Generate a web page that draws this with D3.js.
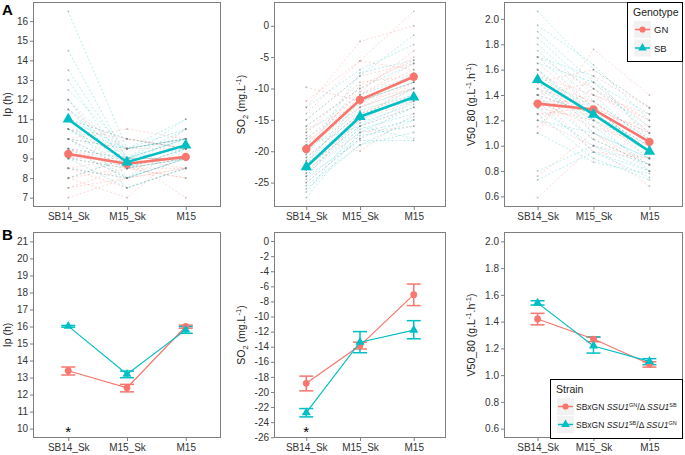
<!DOCTYPE html>
<html>
<head>
<meta charset="utf-8">
<script src="https://cdn.jsdelivr.net/npm/d3@7"></script>
<style>
  body { margin: 0; background: #fff; }
  svg { display: block; }
  text { font-family: "Liberation Sans", Arial, sans-serif; }
</style>
</head>
<body>
<svg id="chart" width="685" height="455"></svg>
<script>
// ---- data ----
const categories = ['SB14_Sk', 'M15_Sk', 'M15'];

// Panel A: individual strains (values at SB14_Sk, M15_Sk, M15)
const ipGN = [
  [7, 8, 8.5], [7.5, 8, 9], [8, 7, 9.5], [8, 8.5, 8], [8.5, 9, 9], [8.5, 8, 8.5],
  [9, 8.5, 9], [9, 9.5, 10], [9, 10, 9.5], [9.5, 8.5, 8.5], [9.5, 9, 9], [10, 9.5, 9.5],
  [10, 10.5, 10], [10.5, 9, 9], [11, 10, 9.5], [11.5, 9.5, 10], [12, 8.5, 8], [8, 9, 7],
  [9.5, 8, 10.5], [10, 8.5, 9], [8.5, 7.5, 8.5], [9, 9, 8.5], [7.5, 8.5, 9.5], [10.5, 10, 9.5]
];
const ipSB = [
  [16.5, 9.5, 10.5], [14.5, 9, 11], [13.5, 9, 10], [13, 8.5, 10.5], [12.5, 9.5, 10], [12, 8, 9.5],
  [11.5, 9, 10], [11.5, 8.5, 9], [11, 9.5, 10], [11, 10, 9.5], [10.5, 8.5, 9.5], [10.5, 9, 9],
  [10, 8.5, 9.5], [10, 9.5, 10], [9.5, 8, 9], [9.5, 9, 9.5], [9, 8.5, 9], [9, 7.5, 8.5],
  [8.5, 8, 9], [8, 9, 10], [12, 9, 10.5], [10, 8, 9], [11, 7.5, 8.5], [10.5, 9.5, 11]
];
const so2GN = [
  [-9.8, -12, -10], [-12, -5.6, -7], [-13, -2.5, 0], [-14, -5.6, 2.3], [-15, -8, -6], [-16, -10, -5],
  [-17, -9, -8], [-18, -11, -7], [-18.5, -12, -9], [-19, -10.5, -4], [-19.5, -13, -10], [-20, -12, -8],
  [-20.5, -11, -6], [-21, -14, -11], [-21.5, -13, -9], [-22, -15, -12], [-22.5, -16, -13], [-23, -17, -16],
  [-23.5, -14, -10], [-24, -15, -9], [-25, -18, -12], [-17.5, -20, -14], [-16.5, -12.5, -7.5], [-20, -9.5, -5.5]
];
const so2SB = [
  [-13, -7, -3], [-15, -8, -1.5], [-16, -10, -6], [-17, -11, -8], [-18, -12, -9], [-19, -13, -10],
  [-20, -13.5, -11], [-21, -14, -12], [-21.5, -15, -11], [-22, -15.5, -12.5], [-22.5, -16, -13], [-23, -16.5, -14],
  [-23.5, -17, -15], [-24, -18.3, -18.3], [-24.5, -17.5, -16], [-25, -18, -14.5], [-25.5, -19, -17], [-26, -19, -15],
  [-26.5, -16, -12], [-27.4, -17, -13], [-20.5, -7.5, -5.5], [-22, -12, -9], [-24, -14.5, -10], [-19, -16, -18]
];
const v50GN = [
  [0.59, 1.0, 0.9], [0.76, 1.1, 0.85], [1.1, 1.76, 1.4], [1.15, 1.55, 1.3], [1.2, 1.45, 1.2], [1.25, 1.3, 1.1],
  [1.3, 1.4, 1.25], [1.3, 1.2, 0.95], [1.35, 1.35, 1.05], [1.4, 1.25, 1.0], [1.4, 1.5, 1.15], [1.45, 1.3, 1.1],
  [1.5, 1.2, 0.9], [1.5, 1.35, 1.0], [1.55, 1.4, 1.2], [1.6, 1.1, 0.8], [1.65, 1.3, 0.95], [1.7, 1.45, 1.1],
  [1.2, 1.0, 0.68], [1.35, 1.15, 1.0], [1.45, 1.05, 0.85], [1.25, 1.25, 1.15], [1.4, 0.95, 0.9], [1.5, 1.6, 1.3]
];
const v50SB = [
  [2.06, 1.6, 1.3], [1.95, 1.64, 1.2], [1.9, 1.5, 1.1], [1.85, 1.45, 1.15], [1.8, 1.4, 1.0], [1.75, 1.35, 1.05],
  [1.7, 1.3, 0.95], [1.65, 1.5, 1.25], [1.6, 1.25, 0.9], [1.6, 1.2, 1.0], [1.55, 1.3, 0.95], [1.5, 1.15, 0.85],
  [1.5, 1.1, 0.9], [1.45, 1.2, 0.8], [1.4, 1.05, 0.85], [1.4, 1.25, 1.0], [1.35, 0.95, 0.75], [1.3, 1.0, 0.8],
  [1.25, 0.9, 0.73], [1.2, 1.1, 0.9], [1.1, 0.87, 0.78], [0.8, 1.0, 0.85], [0.73, 0.95, 0.8], [1.7, 1.55, 1.05]
];

// Panel A: genotype means
const ipMeanGN = [9.23, 8.73, 9.08];
const ipMeanSB = [11.0, 8.81, 9.67];
const so2MeanGN = [-19.65, -11.8, -8.12];
const so2MeanSB = [-22.5, -14.5, -11.4];
const v50MeanGN = [1.332, 1.286, 1.03];
const v50MeanSB = [1.52, 1.247, 0.955];

// Panel B: strain means with error bar low / high
const bIpGN = [13.4, 12.4, 16.0];
const bIpGNLow = [13.15, 12.16, 15.9];
const bIpGNHigh = [13.62, 12.6, 16.08];
const bIpSB = [16.02, 13.2, 15.8];
const bIpSBLow = [15.96, 12.99, 15.6];
const bIpSBHigh = [16.06, 13.38, 16.0];

const bSo2GN = [-18.85, -13.85, -7.1];
const bSo2GNLow = [-19.85, -14.3, -8.55];
const bSo2GNHigh = [-17.9, -13.4, -5.7];
const bSo2SB = [-22.75, -13.4, -11.8];
const bSo2SBLow = [-23.3, -14.8, -12.95];
const bSo2SBHigh = [-22.2, -12.0, -10.55];

const bV50GN = [1.42, 1.27, 1.083];
const bV50GNLow = [1.376, 1.25, 1.06];
const bV50GNHigh = [1.462, 1.285, 1.1];
const bV50SB = [1.54, 1.218, 1.103];
const bV50SBLow = [1.524, 1.165, 1.078];
const bV50SBHigh = [1.556, 1.285, 1.123];

// significance marks (category, y value)
const starsIp = [['SB14_Sk', 9.9]];
const starsSo2 = [['SB14_Sk', -25.1]];

// axis ticks
const ticksIpA = d3.range(7, 17, 1);
const ticksSo2A = [0, -5, -10, -15, -20, -25];
const ticksV50 = [0.6, 0.8, 1.0, 1.2, 1.4, 1.6, 1.8, 2.0];
const ticksIpB = d3.range(10, 22, 1);
const ticksSo2B = d3.range(0, -27, -2);

const limitsIpB = [10, 21];
const limitsV50B = [0.6, 2.0];
const domainSo2B = [-26.1, 1.2];

// ---- drawing ----
const svg = d3.select('#chart');
const colors = { GN: '#F8766D', SB: '#00BFC4' };
const colX = [[33, 221], [274, 446], [504, 683]];
const rowY = [[2, 207], [232, 438]];
const border = '#7f7f7f';

function expand(lim) {
  const pad = (lim[1] - lim[0]) * 0.05;
  return [lim[0] - pad, lim[1] + pad];
}

function panel(col, row, domain, ticks, fmt) {
  const [x0, x1] = colX[col];
  const [y0, y1] = rowY[row];
  const x = d3.scalePoint().domain(categories).range([x0, x1]).padding(0.6);
  const y = d3.scaleLinear().domain(domain).range([y1, y0]);
  const g = svg.append('g');

  const ya = g.append('g')
    .attr('transform', `translate(${x0},0)`)
    .call(d3.axisLeft(y).tickValues(ticks).tickFormat(fmt).tickSize(3).tickPadding(2));
  const xa = g.append('g')
    .attr('transform', `translate(0,${y1})`)
    .call(d3.axisBottom(x).tickSize(3).tickPadding(3));
  [ya, xa].forEach(a => {
    a.select('.domain').remove();
    a.selectAll('line').attr('stroke', border);
    a.selectAll('text').attr('fill', '#333').style('font-size', '10px').style('font-family', '"Liberation Sans", Arial, sans-serif');
  });

  g.append('rect')
    .attr('x', x0 + 0.5).attr('y', y0 + 0.5)
    .attr('width', x1 - x0 - 1).attr('height', y1 - y0 - 1)
    .attr('fill', 'none').attr('stroke', border).attr('stroke-width', 1);

  return { g, x, y };
}

const intFmt = d => String(d);
const decFmt = d => d.toFixed(1);

const symCircle = s => d3.symbol(d3.symbolCircle).size(s)();
const symTriangle = s => d3.symbol(d3.symbolTriangle).size(s)();

function drawTopPanel(col, gnLines, sbLines, gnMean, sbMean, ticks, fmt) {
  const all = gnLines.concat(sbLines).flat();
  const p = panel(col, 0, expand(d3.extent(all)), ticks, fmt);
  const line = d3.line().x((d, i) => p.x(categories[i])).y(d => p.y(d));

  [['GN', gnLines], ['SB', sbLines]].forEach(([key, lines]) => {
    p.g.append('g').selectAll('path')
      .data(lines).enter().append('path')
      .attr('d', line)
      .attr('fill', 'none')
      .attr('stroke', colors[key])
      .attr('stroke-opacity', 0.4)
      .attr('stroke-width', 0.7)
      .attr('stroke-dasharray', '2,2');
    p.g.append('g').selectAll('circle')
      .data(lines.flatMap(l => l.map((v, i) => [i, v]))).enter().append('circle')
      .attr('cx', d => p.x(categories[d[0]]))
      .attr('cy', d => p.y(d[1]))
      .attr('r', 0.9)
      .attr('fill', '#777')
      .attr('opacity', 0.45);
  });

  [['GN', gnMean, symCircle(55)], ['SB', sbMean, symTriangle(55)]].forEach(([key, vals, sym]) => {
    p.g.append('path')
      .attr('d', line(vals))
      .attr('fill', 'none')
      .attr('stroke', colors[key])
      .attr('stroke-width', 2.6);
    p.g.append('g').selectAll('path')
      .data(vals).enter().append('path')
      .attr('d', sym)
      .attr('transform', (d, i) => `translate(${p.x(categories[i])},${p.y(d)})`)
      .attr('fill', colors[key]);
  });
  return p;
}

function drawBottomPanel(col, domain, ticks, fmt, series, stars) {
  const p = panel(col, 1, domain, ticks, fmt);
  const line = d3.line().x((d, i) => p.x(categories[i])).y(d => p.y(d));
  series.forEach(s => {
    const eg = p.g.append('g');
    s.vals.forEach((v, i) => {
      const cx = p.x(categories[i]);
      eg.append('line').attr('x1', cx).attr('x2', cx)
        .attr('y1', p.y(s.low[i])).attr('y2', p.y(s.high[i]));
      eg.append('line').attr('x1', cx - 7).attr('x2', cx + 7)
        .attr('y1', p.y(s.low[i])).attr('y2', p.y(s.low[i]));
      eg.append('line').attr('x1', cx - 7).attr('x2', cx + 7)
        .attr('y1', p.y(s.high[i])).attr('y2', p.y(s.high[i]));
    });
    eg.selectAll('line').attr('stroke', colors[s.key]).attr('stroke-width', 1.5);
  });
  series.forEach(s => {
    p.g.append('path')
      .attr('d', line(s.vals))
      .attr('fill', 'none')
      .attr('stroke', colors[s.key])
      .attr('stroke-width', 1.2);
    p.g.append('g').selectAll('path')
      .data(s.vals).enter().append('path')
      .attr('d', s.key === 'GN' ? symCircle(36) : symTriangle(36))
      .attr('transform', (d, i) => `translate(${p.x(categories[i])},${p.y(d)})`)
      .attr('fill', colors[s.key]);
  });
  p.g.selectAll('.star')
    .data(stars).enter().append('text')
    .attr('x', d => p.x(d[0]))
    .attr('y', d => p.y(d[1]) + 7)
    .attr('text-anchor', 'middle')
    .style('font-size', '15px')
    .attr('fill', '#000')
    .text('*');
  return p;
}

// y axis titles built from pieces: [text, 'n' | 'sub' | 'sup']
function yTitle(xb, yc, parts) {
  const t = svg.append('text')
    .attr('transform', `translate(${xb},${yc}) rotate(-90)`)
    .attr('text-anchor', 'middle')
    .attr('fill', '#222')
    .style('font-size', '10.5px');
  let shift = 0;
  parts.forEach(([txt, kind]) => {
    const target = kind === 'sub' ? 3 : kind === 'sup' ? -4 : 0;
    t.append('tspan')
      .attr('dy', target - shift)
      .style('font-size', kind === 'n' ? '10.5px' : '7.5px')
      .text(txt);
    shift = target;
  });
}

// ---- Panel A ----
drawTopPanel(0, ipGN, ipSB, ipMeanGN, ipMeanSB, ticksIpA, intFmt);
drawTopPanel(1, so2GN, so2SB, so2MeanGN, so2MeanSB, ticksSo2A, intFmt);
drawTopPanel(2, v50GN, v50SB, v50MeanGN, v50MeanSB, ticksV50, decFmt);

// ---- Panel B ----
drawBottomPanel(0, expand(limitsIpB), ticksIpB, intFmt, [
  { key: 'GN', vals: bIpGN, low: bIpGNLow, high: bIpGNHigh },
  { key: 'SB', vals: bIpSB, low: bIpSBLow, high: bIpSBHigh }
], starsIp);
drawBottomPanel(1, domainSo2B, ticksSo2B, intFmt, [
  { key: 'GN', vals: bSo2GN, low: bSo2GNLow, high: bSo2GNHigh },
  { key: 'SB', vals: bSo2SB, low: bSo2SBLow, high: bSo2SBHigh }
], starsSo2);
drawBottomPanel(2, expand(limitsV50B), ticksV50, decFmt, [
  { key: 'GN', vals: bV50GN, low: bV50GNLow, high: bV50GNHigh },
  { key: 'SB', vals: bV50SB, low: bV50SBLow, high: bV50SBHigh }
], []);

// ---- titles ----
[[104.5], [335]].forEach(([yc]) => {
  yTitle(11, yc, [['Ip (h)', 'n']]);
  yTitle(245, yc, [['SO', 'n'], ['2', 'sub'], [' (mg.L', 'n'], ['-1', 'sup'], [')', 'n']]);
  yTitle(475, yc, [['V50_80 (g.L', 'n'], ['-1', 'sup'], ['.h', 'n'], ['-1', 'sup'], [')', 'n']]);
});

svg.append('text').attr('x', 2).attr('y', 15).style('font-size', '15px').style('font-weight', 'bold').text('A');
svg.append('text').attr('x', 2).attr('y', 240).style('font-size', '15px').style('font-weight', 'bold').text('B');

// ---- legends ----
function legendKey(g, x, y, key, w, h) {
  g.append('rect').attr('x', x).attr('y', y).attr('width', w).attr('height', h).attr('fill', '#f2f2f2');
  g.append('line').attr('x1', x + 1).attr('x2', x + w - 1).attr('y1', y + h / 2).attr('y2', y + h / 2)
    .attr('stroke', colors[key]).attr('stroke-width', 1.5);
  g.append('path')
    .attr('d', key === 'GN' ? symCircle(30) : symTriangle(32))
    .attr('transform', `translate(${x + w / 2},${y + h / 2})`)
    .attr('fill', colors[key]);
}

const genotypes = ['GN', 'SB'];
const lgA = svg.append('g');
lgA.append('rect').attr('x', 627.5).attr('y', 2.5).attr('width', 55).attr('height', 59)
  .attr('fill', '#fff').attr('stroke', '#000').attr('stroke-width', 1);
lgA.append('text').attr('x', 633).attr('y', 16).style('font-size', '10.5px').attr('fill', '#222').text('Genotype');
genotypes.forEach((gk, i) => {
  legendKey(lgA, 634, 21 + i * 18.5, gk, 17, 17);
  lgA.append('text').attr('x', 654).attr('y', 33 + i * 18.5).style('font-size', '9.5px').attr('fill', '#222').text(gk);
});

const strainLabels = [
  ['GN', 'SB'],
  ['SB', 'GN']
];
const lgB = svg.append('g');
lgB.append('rect').attr('x', 550.5).attr('y', 379.5).attr('width', 132).attr('height', 59)
  .attr('fill', '#fff').attr('stroke', '#000').attr('stroke-width', 1);
lgB.append('text').attr('x', 556).attr('y', 393).style('font-size', '10.5px').attr('fill', '#222').text('Strain');
genotypes.forEach((gk, i) => {
  legendKey(lgB, 557, 398 + i * 18, gk, 17, 17);
  const t = lgB.append('text').attr('x', 576).attr('y', 410 + i * 18).style('font-size', '8.5px').attr('fill', '#222');
  const [a, b] = strainLabels[i];
  t.append('tspan').text('SBxGN ');
  t.append('tspan').style('font-style', 'italic').text('SSU1');
  t.append('tspan').attr('dy', -3).style('font-size', '5.5px').text(a);
  t.append('tspan').attr('dy', 3).text('/\u0394 ');
  t.append('tspan').style('font-style', 'italic').text('SSU1');
  t.append('tspan').attr('dy', -3).style('font-size', '5.5px').text(b);
});
</script>
</body>
</html>
